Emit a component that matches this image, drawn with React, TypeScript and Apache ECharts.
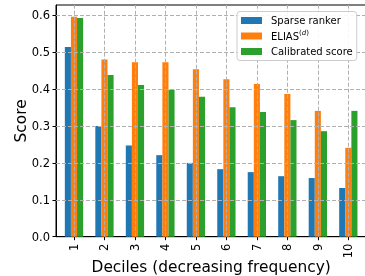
import React, { useEffect, useRef } from "react";
import * as echarts from "echarts";

const deciles = [1, 2, 3, 4, 5, 6, 7, 8, 9, 10];
const seriesNames = ["Sparse ranker", "ELIAS", "Calibrated score"];
const sparseRanker = [0.514, 0.3, 0.247, 0.221, 0.2, 0.183, 0.175, 0.164, 0.159, 0.132];
const elias = [0.596, 0.48, 0.473, 0.473, 0.454, 0.427, 0.414, 0.387, 0.341, 0.241];
const calibrated = [0.593, 0.438, 0.411, 0.398, 0.379, 0.351, 0.338, 0.316, 0.286, 0.341];
const yTicks = [0, 0.1, 0.2, 0.3, 0.4, 0.5, 0.6];
const colors = ["#1f77b4", "#ff7f0e", "#2ca02c"];

const FONT = "DejaVu Sans";

export default function App() {
  const ref = useRef<HTMLDivElement>(null);
  useEffect(() => {
    if (!ref.current) return;
    const chart = echarts.init(ref.current, null, { renderer: "svg" });
    const values = [sparseRanker, elias, calibrated];
    const gridLines = [
      ...yTicks.slice(1).map((v) => ({ yAxis: v })),
      ...deciles.map((d) => ({ xAxis: d })),
    ];
    chart.setOption({
      animation: false,
      textStyle: { fontFamily: FONT },
      grid: {
        left: 56,
        top: 5,
        width: 310.3,
        height: 231.7,
        outerBoundsMode: "none",
        containLabel: false,
        show: true,
        borderColor: "#000",
        borderWidth: 1,
        backgroundColor: "transparent",
      },
      legend: {
        orient: "vertical",
        left: 237,
        top: 11.5,
        z: 20,
        padding: [3, 4, 3, 4],
        itemWidth: 21,
        itemHeight: 7,
        itemGap: 3,
        icon: "rect",
        backgroundColor: "rgba(255,255,255,0.9)",
        borderColor: "#cccccc",
        borderWidth: 1,
        borderRadius: 3,
        data: seriesNames,
        formatter: (name: string) =>
          name === "ELIAS"
            ? "{n|ELIAS}{s|(}{si|d}{s|)}"
            : `{n|${name}}`,
        textStyle: {
          fontFamily: FONT,
          fontSize: 10,
          color: "#000",
          lineHeight: 12,
          rich: {
            n: { fontFamily: FONT, fontSize: 10, color: "#000", padding: [0, 0, 0, 4], lineHeight: 12 },
            s: { fontFamily: FONT, fontSize: 7, color: "#000", padding: [0, 0, 6, 0], lineHeight: 12 },
            si: { fontFamily: FONT, fontSize: 7, fontStyle: "italic", color: "#000", padding: [0, 0, 6, 0], lineHeight: 12 },
          },
        },
      },
      xAxis: {
        type: "value",
        min: 0.41,
        max: 10.59,
        name: "Deciles (decreasing frequency)",
        nameLocation: "middle",
        nameGap: 23,
        nameMoveOverlap: false,
        nameTextStyle: { fontFamily: FONT, fontSize: 15.4, color: "#000" },
        axisLine: { show: true, lineStyle: { color: "#000", width: 1 } },
        axisTick: { show: true, length: 3.5, customValues: deciles, lineStyle: { color: "#000" } },
        axisLabel: {
          customValues: deciles,
          rotate: 90,
          margin: 7,
          fontFamily: FONT,
          fontSize: 11.5,
          color: "#000",
        },
        splitLine: { show: false },
      },
      yAxis: {
        type: "value",
        min: 0,
        max: 0.628,
        name: "Score",
        nameLocation: "middle",
        nameGap: 28,
        nameMoveOverlap: false,
        nameTextStyle: { fontFamily: FONT, fontSize: 15.4, color: "#000" },
        axisLine: { show: true, lineStyle: { color: "#000", width: 1 } },
        axisTick: { show: true, length: 3.5, customValues: yTicks, lineStyle: { color: "#000" } },
        axisLabel: {
          customValues: yTicks,
          margin: 6,
          fontFamily: FONT,
          fontSize: 11.5,
          color: "#000",
          formatter: (v: number) => v.toFixed(1),
        },
        splitLine: { show: false },
      },
      series: values.map((vals, i) => ({
        name: seriesNames[i],
        type: "bar",
        barWidth: "20%",
        barGap: "0%",
        itemStyle: { color: colors[i] },
        data: deciles.map((d, j) => [d, vals[j]]),
        ...(i === 1
          ? {
              markLine: {
                silent: true,
                symbol: "none",
                z: 3,
                label: { show: false },
                emphasis: { disabled: true },
                lineStyle: { color: "#b0b0b0", type: [4, 2], width: 1 },
                data: gridLines,
              },
            }
          : {}),
      })),
    });
    return () => chart.dispose();
  }, []);
  return (
    <div
      ref={ref}
      style={{ position: "fixed", left: 0, top: 0, width: 365, height: 276 }}
    />
  );
}
